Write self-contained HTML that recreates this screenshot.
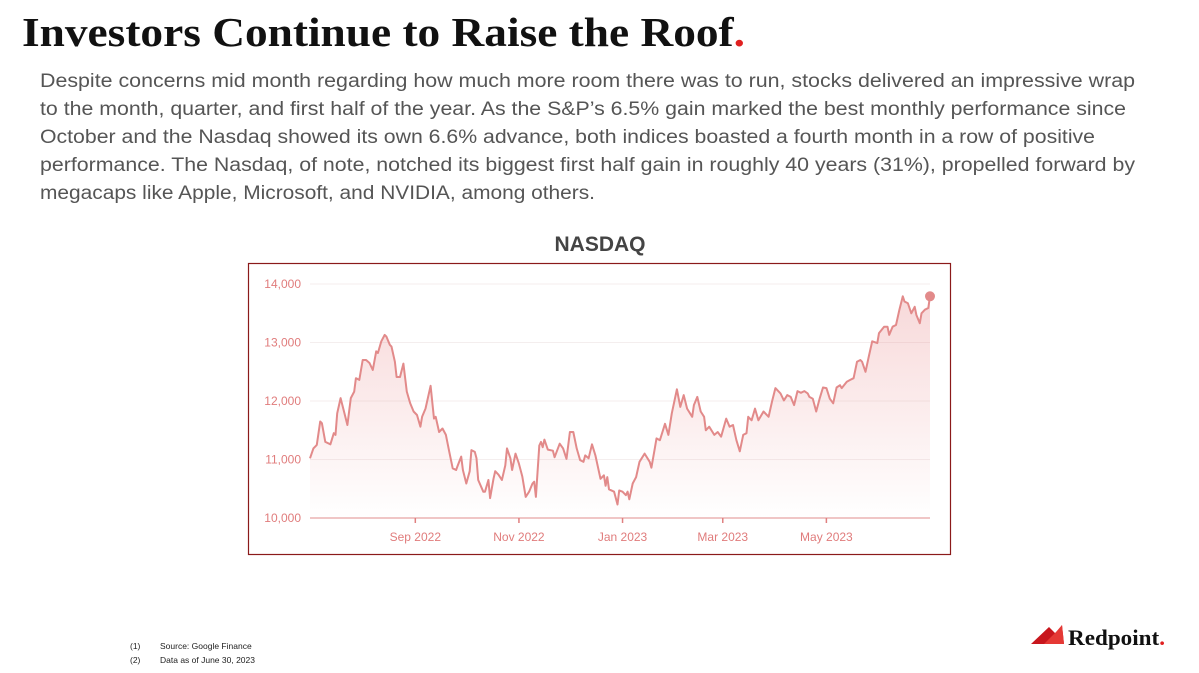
<!DOCTYPE html>
<html><head><meta charset="utf-8">
<style>
html,body{margin:0;padding:0;background:#fff;width:1199px;height:673px;overflow:hidden}
svg{display:block}
</style></head>
<body>
<svg id="page" width="1199" height="673" viewBox="0 0 1199 673">
  <defs>
    <linearGradient id="fillGrad" x1="0" y1="0" x2="0" y2="1">
      <stop offset="0" stop-color="#e8888a" stop-opacity="0.32"/>
      <stop offset="1" stop-color="#e8888a" stop-opacity="0.0"/>
    </linearGradient>
  </defs>
  <text x="22" y="46" font-family="Liberation Serif, serif" font-weight="bold" font-size="41" fill="#111" textLength="723" lengthAdjust="spacingAndGlyphs">Investors Continue to Raise the Roof<tspan fill="#e02020">.</tspan></text>
  <g font-family="Liberation Sans, sans-serif" font-size="19" fill="#555">
    <text x="40" y="87" textLength="1095" lengthAdjust="spacingAndGlyphs">Despite concerns mid month regarding how much more room there was to run, stocks delivered an impressive wrap</text>
    <text x="40" y="115" textLength="1086" lengthAdjust="spacingAndGlyphs">to the month, quarter, and first half of the year. As the S&amp;P’s 6.5% gain marked the best monthly performance since</text>
    <text x="40" y="143" textLength="1055" lengthAdjust="spacingAndGlyphs">October and the Nasdaq showed its own 6.6% advance, both indices boasted a fourth month in a row of positive</text>
    <text x="40" y="171" textLength="1095" lengthAdjust="spacingAndGlyphs">performance. The Nasdaq, of note, notched its biggest first half gain in roughly 40 years (31%), propelled forward by</text>
    <text x="40" y="199" textLength="555" lengthAdjust="spacingAndGlyphs">megacaps like Apple, Microsoft, and NVIDIA, among others.</text>
  </g>
  <text x="600" y="251" text-anchor="middle" font-family="Liberation Sans, sans-serif" font-weight="bold" font-size="21" fill="#444">NASDAQ</text>
  <rect x="248.5" y="263.5" width="702" height="291" fill="none" stroke="#8b1a1a" stroke-width="1.2"/>
  <g id="chart"></g>
  <g font-family="Liberation Sans, sans-serif" font-size="8.5" fill="#222">
    <text x="130" y="649">(1)</text><text x="160" y="649">Source: Google Finance</text>
    <text x="130" y="663">(2)</text><text x="160" y="663">Data as of June 30, 2023</text>
  </g>
  <g>
    <polygon points="1031,644 1049,627 1056,634 1062,625 1064,644" fill="#c8161d"/>
    <polygon points="1044,644 1056,632 1062,625 1064,644" fill="#e53935"/>
    <text x="1068" y="645" font-family="Liberation Serif, serif" font-weight="bold" font-size="22" fill="#111" textLength="97" lengthAdjust="spacingAndGlyphs">Redpoint<tspan fill="#e02020">.</tspan></text>
  </g>
</svg>
<script>
const days = [0,2,4,6,7,9,12,14,15,16,18,20,22,24,26,27,29,31,33,35,37,39,40,42,44,45,47,48,50,51,53,55,57,59,61,63,65,66,68,71,73,74,76,78,80,82,84,86,87,89,90,92,94,95,97,98,99,102,103,105,106,108,109,111,113,115,116,118,119,121,123,125,127,129,131,132,133,135,136,137,138,140,143,144,147,149,151,153,155,157,159,161,162,164,166,168,171,
173,174,175,176,179,181,182,184,186,187,188,190,192,194,197,200,201,203,204,206,209,211,213,216,218,220,222,225,226,228,230,232,233,235,238,240,242,245,247,249,251,253,255,257,258,260,262,264,267,270,272,274,277,279,281,283,285,287,289,291,293,294,296,298,300,302,304,306,308,310,312,313,316,318,320,322,324,325,327,329,331,334,335,338,340,341,343,345,347,349,350,352,354,356,357,359,360,362,364,365];
const closes = [11020,11190,11250,11650,11620,11300,11260,11450,11420,11790,12050,11820,11590,12050,12160,12390,12360,12700,12700,12650,12530,12850,12820,13020,13130,13100,12960,12930,12670,12410,12410,12640,12160,11960,11820,11760,11560,11730,11870,12260,11700,11730,11470,11530,11420,11130,10850,10820,10900,11050,10820,10590,10800,11160,11130,11020,10650,10450,10450,10650,10340,10670,10800,10740,10650,10900,11190,11020,10820,11100,10930,10710,10360,10450,10590,10620,10360,11240,11300,11210,11340,11170,11150,11040,11270,11190,11010,11470,11470,11190,10990,10960,11070,11020,11260,11070,10670,
10730,10550,10700,10490,10450,10230,10470,10450,10390,10450,10320,10590,10700,10960,11100,10960,10860,11190,11360,11330,11610,11420,11790,12200,11900,12100,11870,11730,11930,12070,11820,11730,11500,11560,11420,11470,11390,11700,11560,11590,11330,11140,11420,11450,11730,11670,11870,11670,11820,11730,11990,12220,12130,12010,12100,12070,11930,12170,12140,12170,12130,12070,12040,11820,12040,12230,12220,12040,11960,12230,12270,12220,12330,12360,12390,12670,12700,12670,12500,12760,13020,12990,13160,13270,13270,13130,13270,13300,13560,13790,13700,13670,13500,13610,13470,13330,13500,13560,13590,13790];
const yTicks = [10000,11000,12000,13000,14000];
const yTickLabels = ["10,000","11,000","12,000","13,000","14,000"];
const xTickDays = [62,123,184,243,304];
const xTickLabels = ["Sep 2022","Nov 2022","Jan 2023","Mar 2023","May 2023"];

const NS = "http://www.w3.org/2000/svg";
const g = document.getElementById('chart');
const X0 = 310, X1 = 930, D0 = 0, D1 = 365;
const Y0 = 518, Y1 = 284, V0 = 10000, V1 = 14000;
function xs(d){ return X0 + (d - D0) / (D1 - D0) * (X1 - X0); }
function ys(v){ return Y0 - (v - V0) / (V1 - V0) * (Y0 - Y1); }
function mk(tag, attrs){ const e = document.createElementNS(NS, tag); for (const k in attrs) e.setAttribute(k, attrs[k]); g.appendChild(e); return e; }

yTicks.forEach((v, i) => {
  if (i > 0) {
    const gl = mk('line', {x1: X0, x2: X1, y1: ys(v), y2: ys(v), stroke: '#f4eeee', 'stroke-width': 1});
    
    
  }
  const t = mk('text', {x: 301, y: ys(v) + 4, 'text-anchor': 'end', 'font-family': 'Liberation Sans, sans-serif', 'font-size': 12, fill: '#e07c7c'});
  t.textContent = yTickLabels[i];
  
  
});

let pts = days.map((d, i) => xs(d).toFixed(1) + ',' + ys(closes[i]).toFixed(1));
const area = mk('path', {d: 'M' + xs(days[0]) + ',' + Y0 + ' L' + pts.join(' L') + ' L' + xs(days[days.length-1]) + ',' + Y0 + ' Z', fill: 'url(#fillGrad)', stroke: 'none'});



const axis = mk('line', {x1: X0, x2: X1, y1: Y0, y2: Y0, stroke: '#e8a4a4', 'stroke-width': 1.3});



xTickDays.forEach((d, i) => {
  const tk = mk('line', {x1: xs(d), x2: xs(d), y1: Y0, y2: Y0 + 5, stroke: '#e08080', 'stroke-width': 1.5});
  
  
  const t = mk('text', {x: xs(d), y: 541, 'text-anchor': 'middle', 'font-family': 'Liberation Sans, sans-serif', 'font-size': 12, fill: '#e07c7c'});
  t.textContent = xTickLabels[i];
  
  
});

const line = mk('polyline', {points: pts.join(' '), fill: 'none', stroke: '#e28a8a', 'stroke-width': 2, 'stroke-linejoin': 'round'});



const last = closes.length - 1;
const dot = mk('circle', {cx: xs(days[last]), cy: ys(closes[last]), r: 5, fill: '#e28a8a'});


</script>
</body></html>
